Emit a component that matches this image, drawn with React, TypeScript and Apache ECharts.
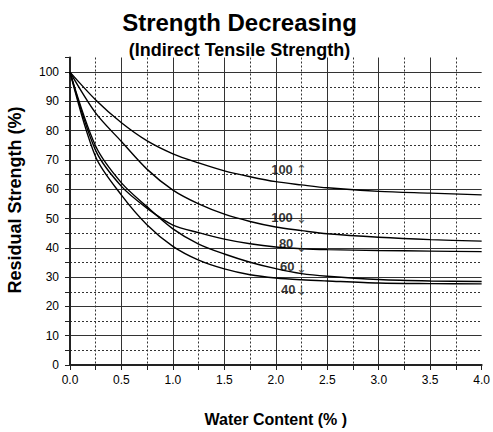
import React, { useEffect, useRef } from 'react';
import * as echarts from 'echarts';

// Water content (%) sample points
const xValues = [0, 0.25, 0.5, 0.75, 1.0, 1.25, 1.5, 1.75, 2.0, 2.25, 2.5, 3.0, 3.5, 4.0];
// Residual strength (%) curves
const curve100Up = [100, 90.5, 82.7, 76.5, 72.1, 69.0, 66.3, 64.3, 62.6, 61.5, 60.5, 59.3, 58.7, 58.1];
const curve100Down = [100, 86.0, 76.3, 66.8, 59.7, 55.0, 51.5, 49.0, 47.1, 45.9, 44.8, 43.6, 42.8, 42.3];
const curve80 = [100, 73.2, 61.0, 53.5, 47.8, 45.2, 43.0, 41.4, 40.3, 39.7, 39.4, 39.1, 38.9, 38.7];
const curve60 = [100, 74.7, 62.2, 54.0, 46.5, 41.3, 37.9, 35.1, 32.9, 31.2, 30.3, 29.2, 28.7, 28.5];
const curve40 = [100, 71.0, 58.0, 47.8, 40.5, 35.8, 32.8, 30.8, 29.7, 29.1, 28.7, 28.0, 27.8, 27.7];

const curves = [curve100Up, curve100Down, curve80, curve60, curve40];
const curveNames = ['100 up', '100 down', '80', '60', '40'];

// Curve annotations (data coordinates)
const labelTexts = ['100', '100', '80', '60', '40'];
const labelArrows = ['↑', '↓', '↓', '↓', '↓'];
const labelX = [2.06, 2.06, 2.1, 2.11, 2.12];
const labelY = [66.8, 50.5, 41.5, 33.5, 25.8];
const arrowX = 2.25;
const arrowY = [66.8, 50.0, 40.0, 33.0, 25.5];

const FONT = '"Liberation Sans", Arial, sans-serif';

export default function App() {
  const ref = useRef<HTMLDivElement>(null);

  useEffect(() => {
    if (!ref.current) return;
    const chart = echarts.init(ref.current, undefined, { renderer: 'svg' });

    const lineSeries = curves.map((c, i) => ({
      name: curveNames[i],
      type: 'line',
      data: xValues.map((x, j) => [x, c[j]]),
      smooth: 0.3,
      showSymbol: false,
      symbol: 'none',
      silent: true,
      lineStyle: { color: '#000', width: 1.4 },
      z: 5,
    }));

    const option: any = {
      animation: false,
      backgroundColor: '#fff',
      graphic: [
        {
          type: 'text',
          x: 239.5,
          y: 22.8,
          style: {
            text: 'Strength Decreasing',
            font: `bold 24px ${FONT}`,
            fill: '#000',
            textAlign: 'center',
            textVerticalAlign: 'middle',
          },
        },
        {
          type: 'text',
          x: 239.5,
          y: 49.7,
          style: {
            text: '(Indirect Tensile Strength)',
            font: `bold 18px ${FONT}`,
            fill: '#000',
            textAlign: 'center',
            textVerticalAlign: 'middle',
          },
        },
        {
          type: 'text',
          x: 15,
          y: 200,
          rotation: Math.PI / 2,
          style: {
            text: 'Residual Strength (%)',
            font: `bold 18px ${FONT}`,
            fill: '#000',
            textAlign: 'center',
            textVerticalAlign: 'middle',
          },
        },
      ],
      grid: { left: 70, right: 10, top: 57.5, bottom: 65.5, containLabel: false },
      xAxis: {
        type: 'value',
        min: 0,
        max: 4,
        interval: 0.5,
        name: 'Water Content (% )',
        nameLocation: 'middle',
        nameGap: 46,
        nameTextStyle: { fontFamily: FONT, fontWeight: 'bold', fontSize: 16, color: '#000' },
        axisLine: { show: true, onZero: false, lineStyle: { color: '#222', width: 2 } },
        axisTick: { show: true, inside: false, length: 5, lineStyle: { color: '#222', width: 1 } },
        minorTick: { show: true, splitNumber: 2, length: 5, lineStyle: { color: '#222', width: 1 } },
        axisLabel: {
          fontFamily: FONT,
          fontSize: 12,
          color: '#000',
          margin: 9,
          formatter: (v: number) => v.toFixed(1),
        },
        splitLine: {
          show: true,
          showMinLine: false,
          showMaxLine: false,
          lineStyle: { color: '#333', width: 1, type: 'solid' },
        },
        minorSplitLine: {
          show: true,
          lineStyle: { color: '#333', width: 1, type: [2, 2] },
        },
      },
      yAxis: [
        {
          type: 'value',
          min: 0,
          max: 105,
          interval: 10,
          position: 'left',
          axisLine: { show: true, onZero: false, lineStyle: { color: '#222', width: 2 } },
          axisTick: { show: true, inside: false, length: 5, lineStyle: { color: '#222', width: 1 } },
          axisLabel: {
            fontFamily: FONT,
            fontSize: 12,
            color: '#000',
            margin: 11,
            showMaxLabel: false,
          },
          splitLine: {
            show: true,
            showMinLine: false,
            showMaxLine: false,
            lineStyle: { color: '#333', width: 1, type: 'solid' },
          },
        },
        {
          type: 'value',
          min: 0,
          max: 105,
          interval: 5,
          position: 'left',
          axisLine: { show: false },
          axisTick: { show: true, inside: false, length: 5, lineStyle: { color: '#222', width: 1 } },
          axisLabel: { show: false },
          splitLine: {
            show: true,
            showMinLine: false,
            showMaxLine: false,
            lineStyle: { color: '#333', width: 1, type: [2, 2] },
          },
        },
      ],
      series: [
        ...lineSeries,
        {
          name: 'labels',
          type: 'scatter',
          silent: true,
          symbolSize: 0,
          z: 10,
          data: labelTexts.map((t, i) => ({
            value: [labelX[i], labelY[i]],
            label: {
              show: true,
              position: 'inside',
              formatter: t,
              fontFamily: FONT,
              fontWeight: 'bold',
              fontSize: 13,
              color: '#000',
            },
          })),
        },
        {
          name: 'arrows',
          type: 'scatter',
          silent: true,
          symbolSize: 0,
          z: 10,
          data: labelArrows.map((a, i) => ({
            value: [arrowX, arrowY[i]],
            label: {
              show: true,
              position: 'inside',
              formatter: a,
              fontFamily: '"DejaVu Sans", sans-serif',
              fontSize: 13,
              color: '#333',
            },
          })),
        },
      ],
    };

    chart.setOption(option);
    return () => chart.dispose();
  }, []);

  return (
    <div
      ref={ref}
      style={{ width: 493, height: 432, position: 'absolute', left: 0, top: 0 }}
    />
  );
}
